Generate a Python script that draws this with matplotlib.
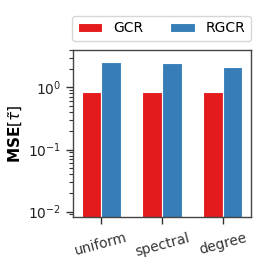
import numpy as np
import matplotlib
matplotlib.use("Agg")
import matplotlib.pyplot as plt

methods = ["uniform", "spectral", "degree"]
gcr = [0.85, 0.85, 0.85]
rgcr = [2.6, 2.45, 2.15]

colors = {"GCR": "#e41a1c", "RGCR": "#377eb8"}

fig = plt.figure(figsize=(2.63, 2.63), dpi=100)
ax = fig.add_axes([73 / 263, 1 - 217 / 263, 178 / 263, 167 / 263])

x = np.arange(len(methods))
w = 0.32
ax.bar(x - w / 2, gcr, w, color=colors["GCR"], edgecolor="white", linewidth=0.8, label="GCR")
ax.bar(x + w / 2, rgcr, w, color=colors["RGCR"], edgecolor="white", linewidth=0.8, label="RGCR")

ax.set_yscale("log")
ax.set_ylim(0.0082, 4.0)
ax.set_xlim(-0.46, 2.46)
ax.set_xticks(x)
ax.set_xticklabels(methods, rotation=15, fontsize=10, color="#222222")
ax.tick_params(axis="both", which="major", length=5, width=1, colors="#333333")
ax.tick_params(axis="y", which="minor", length=3, width=0.8, colors="#333333")
ax.tick_params(axis="y", labelsize=10, labelcolor="#222222")
ax.tick_params(axis="x", pad=5)
for s in ax.spines.values():
    s.set_color("#444444")
    s.set_linewidth(1.0)
ax.set_ylabel(r"$\mathbf{MSE}[\tilde{\tau}]$", fontsize=11, labelpad=2)

ax.legend(loc="lower center", bbox_to_anchor=(0.497, 1.054), ncol=2, fontsize=10,
          frameon=True, handlelength=1.75, handletextpad=0.8, columnspacing=1.95,
          borderaxespad=0, handleheight=0.55)

fig.savefig("out.png", dpi=100)
